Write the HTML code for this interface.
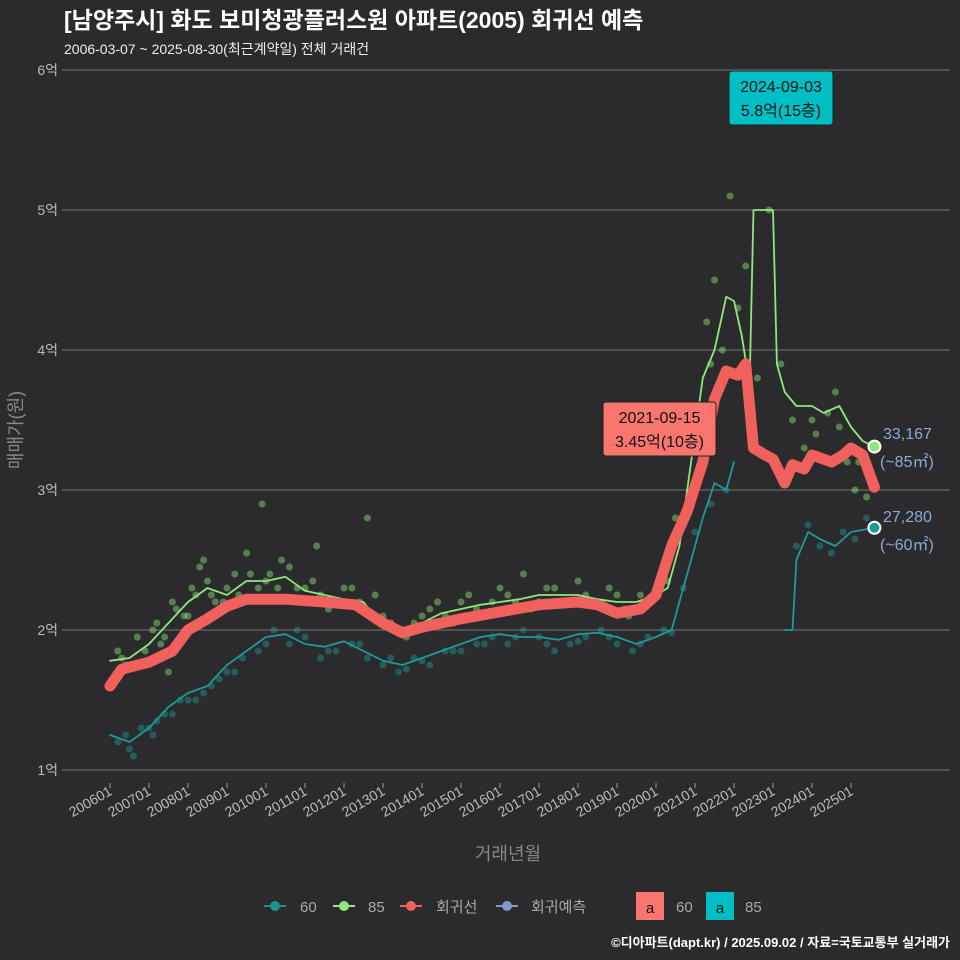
<!DOCTYPE html>
<html><head><meta charset="utf-8"><style>
html,body{margin:0;background:#2b2b2d;overflow:hidden;width:960px;height:960px;}
svg{display:block;}
svg text{font-family:"Liberation Sans","Noto Sans CJK KR",sans-serif;}
</style></head><body>
<svg id="c" width="960" height="960" xmlns="http://www.w3.org/2000/svg">
<rect width="960" height="960" fill="#2b2b2d"/>
<text x="64" y="28" fill="#fff" font-size="23" font-weight="bold">[남양주시] 화도 보미청광플러스원 아파트(2005) 회귀선 예측</text>
<text x="64" y="54" fill="#eee" font-size="14">2006-03-07 ~ 2025-08-30(최근계약일) 전체 거래건</text>
<g id="grid"></g><g id="pts"></g><g id="lines"></g><g id="ann"></g>
<text x="22" y="430" fill="#888" font-size="18" transform="rotate(-90 22 430)" text-anchor="middle">매매가(원)</text>
<text x="508" y="860" fill="#888" font-size="18" text-anchor="middle">거래년월</text>
<g font-size="15" fill="#aaa">
<line x1="264" x2="286" y1="906" y2="906" stroke="#1f8f8f" stroke-width="2"/><circle cx="275" cy="906" r="5" fill="#1f8f8f"/><text x="300" y="912">60</text>
<line x1="333" x2="355" y1="906" y2="906" stroke="#8ee87a" stroke-width="2"/><circle cx="344" cy="906" r="5" fill="#8ee87a"/><text x="368" y="912">85</text>
<line x1="400" x2="422" y1="906" y2="906" stroke="#f0605c" stroke-width="2"/><circle cx="411" cy="906" r="5" fill="#f0605c"/><text x="436" y="912">회귀선</text>
<line x1="496" x2="518" y1="906" y2="906" stroke="#7f9cc8" stroke-width="2"/><circle cx="507" cy="906" r="5" fill="#7f9cc8"/><text x="531" y="912">회귀예측</text>
<rect x="636" y="892" width="28" height="28" fill="#f8766d"/><text x="650" y="913" text-anchor="middle" fill="#111">a</text><text x="676" y="912">60</text>
<rect x="706" y="892" width="28" height="28" fill="#00bfc4"/><text x="720" y="913" text-anchor="middle" fill="#111">a</text><text x="745" y="912">85</text>
</g>
<text x="950" y="947" fill="#fff" font-size="13" font-weight="bold" text-anchor="end">©디아파트(dapt.kr) / 2025.09.02 / 자료=국토교통부 실거래가</text>
</svg>
<script>
const ticksY=[1,2,3,4,5,6];
const ticksX=[2006,2007,2008,2009,2010,2011,2012,2013,2014,2015,2016,2017,2018,2019,2020,2021,2022,2023,2024,2025];
const t85=[2006,2006.5,2007,2007.5,2008,2008.5,2009,2009.5,2010,2010.5,2011,2011.5,2012,2012.5,2013,2013.5,2014,2014.5,2015,2015.5,2016,2016.5,2017,2017.5,2018,2018.5,2019,2019.5,2020,2020.3,2020.6,2020.9,2021.2,2021.5,2021.8,2022,2022.2,2022.4,2022.5,2023,2023.1,2023.3,2023.6,2024,2024.3,2024.7,2025,2025.3,2025.6];
const v85=[1.78,1.8,1.9,2.05,2.2,2.3,2.25,2.35,2.35,2.38,2.28,2.25,2.22,2.2,2.02,2.0,2.05,2.12,2.15,2.18,2.2,2.22,2.25,2.25,2.25,2.22,2.2,2.2,2.25,2.3,2.6,3.2,3.8,4.0,4.38,4.35,4.1,3.75,5.0,5.0,3.9,3.7,3.6,3.6,3.55,3.6,3.45,3.35,3.31];
const t60a=[2006,2006.5,2007,2007.5,2008,2008.5,2009,2009.5,2010,2010.5,2011,2011.5,2012,2012.5,2013,2013.5,2014,2014.5,2015,2015.5,2016,2016.5,2017,2017.5,2018,2018.5,2019,2019.5,2020,2020.4,2020.8,2021.2,2021.5,2021.8,2022];
const v60a=[1.25,1.2,1.3,1.45,1.55,1.6,1.75,1.85,1.95,1.97,1.9,1.88,1.92,1.85,1.78,1.75,1.8,1.85,1.9,1.95,1.97,1.95,1.95,1.93,1.97,1.98,1.95,1.9,1.95,2.0,2.4,2.8,3.05,3.0,3.2];
const t60b=[2023.3,2023.5,2023.6,2023.9,2024.2,2024.6,2025,2025.6];
const v60b=[2.0,2.0,2.5,2.7,2.65,2.6,2.7,2.73];
const tReg=[2006,2006.3,2007,2007.6,2008,2008.5,2009,2009.5,2010.5,2011.5,2012.3,2013,2013.5,2014,2015,2016,2017,2018,2018.5,2019,2019.6,2020,2020.4,2020.8,2021.2,2021.5,2021.8,2022.1,2022.3,2022.5,2022.8,2023,2023.3,2023.5,2023.8,2024,2024.5,2024.8,2025,2025.3,2025.6];
const vReg=[1.6,1.72,1.77,1.85,2.0,2.08,2.17,2.22,2.22,2.2,2.18,2.05,1.98,2.02,2.08,2.13,2.18,2.2,2.18,2.12,2.15,2.25,2.6,2.85,3.2,3.65,3.85,3.82,3.9,3.3,3.25,3.22,3.05,3.18,3.15,3.25,3.2,3.25,3.3,3.25,3.02];
const s85t=[2006.2,2006.4,2006.7,2007.1,2007.3,2007.6,2007.9,2008.1,2008.3,2008.6,2008.9,2009.2,2009.5,2009.8,2010.1,2010.4,2010.8,2011.2,2011.6,2012.0,2012.4,2012.8,2013.2,2013.6,2014.0,2014.4,2014.8,2015.2,2015.6,2016.0,2016.4,2016.8,2017.2,2017.6,2018.0,2018.4,2018.8,2019.2,2019.6,2020.0,2020.5,2020.8,2021.0,2021.3,2021.5,2021.7,2021.9,2022.1,2022.6,2022.9,2023.2,2023.5,2023.8,2024.1,2024.4,2024.6,2024.9,2025.1,2025.4,2009.9,2011.3,2012.6,2007.5,2008.4,2016.6,2019.3,
2006.3,2006.9,2007.2,2007.4,2007.7,2008.0,2008.2,2008.5,2008.7,2009.0,2009.3,2009.6,2010.0,2010.3,2010.6,2011.0,2011.4,2011.8,2012.2,2013.0,2013.3,2013.8,2014.2,2014.6,2015.0,2015.4,2015.8,2016.2,2017.0,2017.4,2017.8,2018.2,2018.6,2019.0,2019.8,2020.3,2021.1,2021.4,2022.3,2024.0,2024.7,2025.2];
const s85v=[1.85,1.75,1.95,2.0,1.9,2.2,2.1,2.3,2.45,2.25,2.2,2.4,2.55,2.3,2.4,2.5,2.3,2.35,2.15,2.3,2.2,2.25,2.05,1.95,2.1,2.2,2.05,2.25,2.1,2.3,2.2,2.15,2.3,2.2,2.35,2.2,2.3,2.15,2.25,2.3,2.8,3.3,3.6,4.2,4.5,4.0,5.1,4.3,3.8,5.0,3.9,3.5,3.3,3.4,3.55,3.7,3.2,3.0,2.95,2.9,2.6,2.8,1.7,2.5,2.4,2.1,
1.8,1.85,2.05,1.95,2.15,2.1,2.25,2.35,2.2,2.3,2.25,2.4,2.35,2.3,2.45,2.3,2.25,2.2,2.3,2.1,2.0,2.05,2.15,2.1,2.2,2.15,2.2,2.25,2.2,2.3,2.2,2.25,2.2,2.25,2.2,2.35,3.5,3.9,4.6,3.5,3.45,3.2];
const s60t=[2006.2,2006.5,2006.8,2007.1,2007.4,2007.8,2008.2,2008.6,2009.0,2009.4,2009.8,2010.2,2010.6,2011.0,2011.4,2011.8,2012.2,2012.6,2013.0,2013.4,2013.8,2014.2,2014.6,2015.0,2015.4,2015.8,2016.2,2016.6,2017.0,2017.4,2017.8,2018.2,2018.6,2019.0,2019.4,2019.8,2020.2,2020.7,2021.0,2021.4,2021.8,2023.6,2023.9,2024.2,2024.5,2024.8,2025.1,2025.4,2006.6,2007.2,
2006.4,2007.0,2007.6,2008.0,2008.4,2008.8,2009.2,2010.0,2010.8,2011.6,2012.4,2013.2,2013.6,2014.0,2014.8,2015.6,2016.4,2017.2,2018.0,2018.8,2019.6,2020.4];
const s60v=[1.2,1.15,1.3,1.25,1.4,1.5,1.5,1.6,1.7,1.8,1.85,2.0,1.9,1.95,1.8,1.85,1.9,1.8,1.75,1.7,1.8,1.75,1.85,1.85,1.9,1.95,1.9,2.0,1.95,1.85,1.9,1.95,2.0,1.9,1.85,1.95,2.0,2.3,2.7,2.9,3.0,2.6,2.75,2.6,2.55,2.7,2.65,2.8,1.1,1.35,
1.25,1.3,1.4,1.5,1.55,1.65,1.7,1.9,2.0,1.85,1.9,1.8,1.72,1.78,1.85,1.9,1.95,1.9,1.92,1.95,1.9,1.98];
const X=t=>110+(t-2006)*39, Y=v=>770-(v-1)*140;
const NS="http://www.w3.org/2000/svg";
function mk(tag,attrs,parent){const e=document.createElementNS(NS,tag);for(const k in attrs)e.setAttribute(k,attrs[k]);document.getElementById(parent).appendChild(e);return e;}
ticksY.forEach(v=>{
 const l=mk('line',{x1:62,x2:950,y1:Y(v),y2:Y(v),stroke:'#777','stroke-width':1},'grid');
 
 
 const t=mk('text',{x:58,y:Y(v)+5,fill:'#bbb','font-size':14,'text-anchor':'end'},'grid');t.textContent=v+'억';
 
 
});
ticksX.forEach(y=>{
 const l=mk('line',{x1:X(y),x2:X(y),y1:783,y2:788,stroke:'#999'},'grid');
 
 
 const t=mk('text',{x:X(y)+3,y:794,fill:'#bbb','font-size':14,'text-anchor':'end',transform:`rotate(-30 ${X(y)+3} 794)`},'grid');t.textContent=y+'01';
 
 
});
function dots(ts,vs,col,name){ts.forEach((t,i)=>{const c=mk('circle',{cx:X(t),cy:Y(vs[i]),r:3.5,fill:col,'fill-opacity':0.45},'pts');
 
 });}
dots(s60t,s60v,'#1f9a9a','point-60');
dots(s85t,s85v,'#8ee87a','point-85');
function line(ts,vs,col,w,name){const p=mk('polyline',{points:ts.map((t,i)=>X(t)+','+Y(vs[i])).join(' '),fill:'none',stroke:col,'stroke-width':w,'stroke-linejoin':'round','stroke-linecap':'round'},'lines');
 
 }
line(t60a,v60a,'#1f9a9a',1.8,'line-60');
line(t60b,v60b,'#1f9a9a',1.8,'line-60-recent');
line(t85,v85,'#8ee87a',1.8,'line-85');
line(tReg,vReg,'#f0605c',11,'regression-line');
[[2025.6,3.31,'#8ee87a','end-85'],[2025.6,2.73,'#1f9a9a','end-60']].forEach(a=>{const c=mk('circle',{cx:X(a[0]),cy:Y(a[1]),r:6,fill:a[2],stroke:'#fff','stroke-width':2},'ann');
 
 });
function lbl(x,y,s,name){const t=mk('text',{x:x,y:y,fill:'#8fa8d6','font-size':16},'ann');t.textContent=s;
 
 }
lbl(883,439,'33,167','price-85');lbl(880,467,'(~85㎡)','area-85');
lbl(883,522,'27,280','price-60');lbl(880,550,'(~60㎡)','area-60');
function box(x,y,w,h,col,l1,l2,name){const r=mk('rect',{x:x,y:y,width:w,height:h,fill:col,rx:3,stroke:'#222'},'ann');
 
 
 const a=mk('text',{x:x+w/2,y:y+21,fill:'#111','font-size':16,'text-anchor':'middle'},'ann');a.textContent=l1;
 const b=mk('text',{x:x+w/2,y:y+45,fill:'#111','font-size':16,'text-anchor':'middle'},'ann');b.textContent=l2;}
box(729,71,104,54,'#00bfc4','2024-09-03','5.8억(15층)','max-annotation');
box(603,402,113,54,'#f8766d','2021-09-15','3.45억(10층)','min-annotation');
</script>
</body></html>
